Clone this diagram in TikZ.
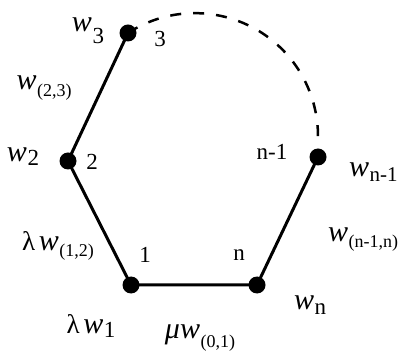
\documentclass[tikz,border=0pt]{standalone}
\usepackage{fontspec}
\setmainfont{Liberation Serif}
\newcommand\fsz[1]{\fontsize{#1}{#1}\selectfont}
% w with subscript: #1 subscript, #2 lowering (pt), #3 subscript size
\newcommand\Wsub[3]{{\fsz{30}\textit{w}}\kern0.5pt\raisebox{-#2pt}{\fsz{#3}#1}}
\begin{document}
\begin{tikzpicture}[x=1pt,y=1pt,
  dot/.style={circle,fill=black,inner sep=0pt,minimum size=17pt},
  edge/.style={line width=3pt},
  dashline/.style={line width=2.5pt,dash pattern=on 11pt off 12pt},
  lbl/.style={inner sep=0pt,font=\fsz{23}}]
\useasboundingbox (0,0) rectangle (406,361);
% vertices
\node[dot] (v3) at (128,328) {};
\node[dot] (v2) at (68,200) {};
\node[dot] (v1) at (131,76) {};
\node[dot] (vn) at (257,76) {};
\node[dot] (vm) at (318,204) {};
% edges
\draw[edge] (v3.center) -- (v2.center) -- (v1.center) -- (vn.center) -- (vm.center);
\draw[dashline] (v3.center) arc[start angle=123,end angle=-3,radius=123];
% vertex numbers
\node[lbl] (n3) at (160,322) {3};
\node[lbl] (n2) at (92,199) {2};
\node[lbl] (n1) at (145,106) {1};
\node[lbl] (nn) at (239,106) {n};
\node[lbl] (nm) at (272,209) {n-1};
% vertex weights
\node[lbl] (w3) at (88,330) {\Wsub{3}{12}{23}};
\node[lbl] (w2) at (23,204) {\Wsub{2}{4}{23}};
\node[lbl] (w1) at (91,35) {{\fsz{27}λ}\,\Wsub{1}{4}{23}};
\node[lbl] (wn) at (310,56) {\Wsub{n}{5}{23}};
\node[lbl,anchor=west] (wm) at (349,189) {\Wsub{n-1}{5}{21}};
% edge weights
\node[lbl] (e23) at (44,273) {\Wsub{(2,3)}{7}{18}};
\node[lbl] (e12) at (58,115) {{\fsz{27}λ}\,\Wsub{(1,2)}{6}{18}};
\node[lbl] (e01) at (200,23) {{\fsz{30}\textit{μ}}\Wsub{(0,1)}{9}{18}};
\node[lbl] (enm) at (363,121) {\Wsub{(n-1,n)}{6}{18}};
\end{tikzpicture}
\end{document}
